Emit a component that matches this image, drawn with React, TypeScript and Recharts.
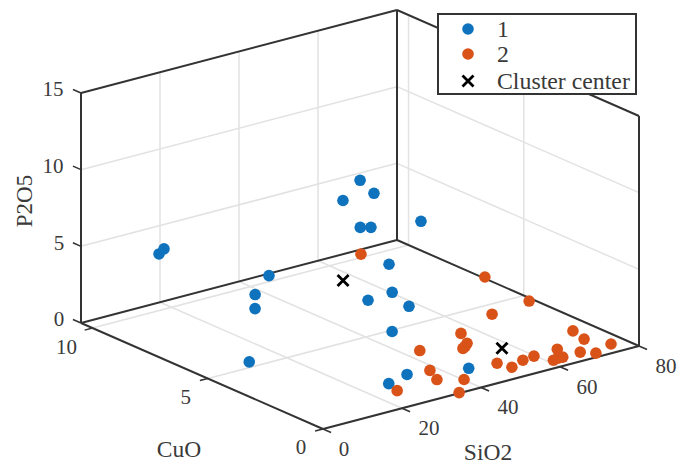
import * as React from "react"
import {
  ScatterChart,
  Scatter,
  XAxis,
  YAxis,
  ReferenceLine,
  ReferenceDot,
  Legend,
} from "recharts"

// values (SiO2, CuO, P2O5)
const sio2One = [9.6, 12.2, 35.8, 32.3, 27.2, 9.8, 51.4, 48.9, 41.4, 45.5, 47.2, 57.3, 58.9, 54.8, 48.1, 52.4, 43.4, 45, 33, 26.8]
const cuoOne = [8.76, 8.99, 8.48, 8.48, 7.61, 4.88, 7.2, 6.17, 6.23, 6.18, 6.01, 5.57, 7.23, 6.39, 6.29, 5.25, 4.44, 1.39, 2.01, 1.74]
const p2o5One = [5, 5, 2, 1, 1, 0.5, 8, 8, 8, 6, 6, 6, 2, 1, 1, 1, 0.5, 0, 0, 0]

const sio2Two = [58.1, 75, 73.3, 62.7, 53.6, 51, 49.6, 48.5, 40.9, 75, 73.8, 76.3, 65.9, 68.5, 70.6, 63.9, 61.3, 62.8, 59.7, 56.5, 52.2, 51.3, 38.1, 35.9, 40.2, 25.6, 34.7]
const cuoTwo = [8.31, 5.83, 3.62, 3.41, 3.2, 2.49, 2.33, 2.24, 2.81, 2.01, 1.32, 0.58, 1.13, 0.58, 0.26, 0.55, 0.51, 0.57, 1.08, 1.01, 0.75, 1.24, 1.89, 1.21, 0.77, 1.17, 0.04]
const p2o5Two = [2, 1, 1, 1, 0.5, 0.5, 0.5, 0.5, 0.5, 0, 0, 0, 0, 0, 0, 0, 0, 0, 0, 0, 0, 0, 0, 0, 0, 0, 0]

const sio2Centers = [40.2, 54.7]
const cuoCenters = [6.02, 1.61]
const p2o5Centers = [3, 0.5]

const sio2Ticks = [0, 20, 40, 60, 80]
const cuoTicks = [0, 5, 10]
const p2o5Ticks = [0, 5, 10, 15]

const SIO2_MAX = 80
const CUO_MAX = 10.5
const P2O5_MAX = 15

const WIDTH = 678
const HEIGHT = 464
const SERIF = '"Liberation Serif", serif'
const TEXT = "#3a3a3a"
const EDGE = "#333333"
const GRID = "#e2e2e2"

// orthographic view of the 3d box, gives page pixels
const project = (s: number, c: number, p: number) => ({
  x: 323 + (316 / SIO2_MAX) * s - (242 / CUO_MAX) * c,
  y: 429 - (83 / SIO2_MAX) * s - (106 / CUO_MAX) * c - (230 / P2O5_MAX) * p,
})

const toPoints = (s: number[], c: number[], p: number[]) =>
  s.map((v, i) => {
    const pos = project(v, c[i], p[i])
    return { px: pos.x, py: pos.y }
  })

type P3 = [number, number, number]

const seg = (a: P3, b: P3) => {
  const pa = project(...a)
  const pb = project(...b)
  return [pa, pb]
}

const gridLines: [P3, P3][] = [
  // floor
  ...[20, 40, 60].map((s): [P3, P3] => [[s, 0, 0], [s, CUO_MAX, 0]]),
  ...[5, 10].map((c): [P3, P3] => [[0, c, 0], [SIO2_MAX, c, 0]]),
  // back wall
  ...[20, 40, 60].map((s): [P3, P3] => [[s, CUO_MAX, 0], [s, CUO_MAX, P2O5_MAX]]),
  ...[5, 10].map((p): [P3, P3] => [[0, CUO_MAX, p], [SIO2_MAX, CUO_MAX, p]]),
  // right wall
  ...[5, 10].map((c): [P3, P3] => [[SIO2_MAX, c, 0], [SIO2_MAX, c, P2O5_MAX]]),
  ...[5, 10].map((p): [P3, P3] => [[SIO2_MAX, 0, p], [SIO2_MAX, CUO_MAX, p]]),
]

const edgeLines: [P3, P3][] = [
  [[0, CUO_MAX, 0], [0, CUO_MAX, P2O5_MAX]],
  [[SIO2_MAX, CUO_MAX, 0], [SIO2_MAX, CUO_MAX, P2O5_MAX]],
  [[SIO2_MAX, 0, 0], [SIO2_MAX, 0, P2O5_MAX]],
  [[0, CUO_MAX, P2O5_MAX], [SIO2_MAX, CUO_MAX, P2O5_MAX]],
  [[SIO2_MAX, CUO_MAX, P2O5_MAX], [SIO2_MAX, 0, P2O5_MAX]],
  [[0, CUO_MAX, 0], [0, 0, 0]],
  [[0, 0, 0], [SIO2_MAX, 0, 0]],
  [[0, CUO_MAX, 0], [SIO2_MAX, CUO_MAX, 0]],
  [[SIO2_MAX, CUO_MAX, 0], [SIO2_MAX, 0, 0]],
]

const tickLines: [P3, P3][] = [
  ...sio2Ticks.map((s): [P3, P3] => [[s, 0, 0], [s, -0.35, 0]]),
  ...cuoTicks.map((c): [P3, P3] => [[0, c, 0], [-2, c, 0]]),
  ...p2o5Ticks.map((p): [P3, P3] => [[0, CUO_MAX, p], [0, CUO_MAX + 0.35, p]]),
]

const tickLabels = [
  ...p2o5Ticks.map((p) => {
    const pos = project(0, CUO_MAX, p)
    return { text: String(p), x: pos.x - (p >= 10 ? 28 : 22), y: pos.y - 4 }
  }),
  ...cuoTicks.map((c) => {
    const pos = project(0, c, 0)
    return { text: String(c), x: pos.x - (c >= 10 ? 26 : 22), y: pos.y + 18 }
  }),
  ...sio2Ticks.map((s) => {
    const pos = project(s, 0, 0)
    return { text: String(s), x: pos.x + (s >= 10 ? 27 : 21), y: pos.y + 19.5 }
  }),
]

const axisTitles = [
  { text: "CuO", x: 179, y: 449 },
  { text: "SiO2", x: 488, y: 452 },
]

const Dot = (color: string) => (props: any) => (
  <circle cx={props.cx} cy={props.cy} r={5.8} fill={color} />
)

const CrossMark = ({ cx, cy }: { cx: number; cy: number }) => (
  <path
    d={`M${cx - 5.5} ${cy - 5.5}L${cx + 5.5} ${cy + 5.5}M${cx - 5.5} ${cy + 5.5}L${cx + 5.5} ${cy - 5.5}`}
    stroke="#000000"
    strokeWidth={2.8}
    fill="none"
  />
)

const legendRows = [
  { top: 16, marker: <circle cx={31} cy={16} r={5.8} fill="#0e72bd" /> },
  { top: 41, marker: <circle cx={31} cy={41} r={5.8} fill="#d95319" /> },
  { top: 68, marker: <CrossMark cx={31} cy={68} /> },
]

const LegendBox = ({ payload }: any) => (
  <div
    style={{
      position: "relative",
      width: 200,
      height: 82,
      boxSizing: "border-box",
      background: "#ffffff",
      border: `2px solid ${EDGE}`,
      fontFamily: SERIF,
      fontSize: 23.8,
      color: TEXT,
    }}
  >
    <svg width={60} height={80} style={{ position: "absolute", left: -2, top: -2 }}>
      {legendRows.map((row, i) => (
        <React.Fragment key={i}>{row.marker}</React.Fragment>
      ))}
    </svg>
    {(payload || []).map((entry: any, i: number) => (
      <span
        key={entry.value}
        style={{
          position: "absolute",
          left: 58,
          top: legendRows[i].top - 14,
          lineHeight: "24px",
          whiteSpace: "nowrap",
        }}
      >
        {entry.value}
      </span>
    ))}
  </div>
)

export default function App() {
  return (
    <div style={{ position: "absolute", left: 0, top: 0, width: WIDTH, height: HEIGHT }}>
      <ScatterChart
        width={WIDTH}
        height={HEIGHT}
        margin={{ top: 0, right: 0, bottom: 0, left: 0 }}
      >
        <XAxis type="number" dataKey="px" domain={[0, WIDTH]} hide />
        <YAxis type="number" dataKey="py" domain={[0, HEIGHT]} reversed hide />

        {gridLines.map(([a, b], i) => (
          <ReferenceLine key={`g${i}`} segment={seg(a, b)} stroke={GRID} strokeWidth={1.5} ifOverflow="visible" />
        ))}
        {edgeLines.map(([a, b], i) => (
          <ReferenceLine key={`e${i}`} segment={seg(a, b)} stroke={EDGE} strokeWidth={2} ifOverflow="visible" />
        ))}
        {tickLines.map(([a, b], i) => (
          <ReferenceLine key={`t${i}`} segment={seg(a, b)} stroke={EDGE} strokeWidth={1.5} ifOverflow="visible" />
        ))}

        {tickLabels.map((l) => (
          <ReferenceDot
            key={`${l.text}-${l.x}`}
            x={l.x}
            y={l.y}
            r={0}
            stroke="none"
            fill="none"
            ifOverflow="visible"
            label={{ value: l.text, position: "center", fontSize: 21, fontFamily: SERIF, fill: TEXT }}
          />
        ))}
        {axisTitles.map((l) => (
          <ReferenceDot
            key={l.text}
            x={l.x}
            y={l.y}
            r={0}
            stroke="none"
            fill="none"
            ifOverflow="visible"
            label={{ value: l.text, position: "center", fontSize: 23.5, fontFamily: SERIF, fill: TEXT }}
          />
        ))}
        <ReferenceDot
          x={24}
          y={201}
          r={0}
          stroke="none"
          fill="none"
          label={{ value: "P2O5", position: "center", angle: -90, fontSize: 23, fontFamily: SERIF, fill: TEXT }}
        />

        <Scatter name="1" data={toPoints(sio2One, cuoOne, p2o5One)} fill="#0e72bd" shape={Dot("#0e72bd")} isAnimationActive={false} />
        <Scatter name="2" data={toPoints(sio2Two, cuoTwo, p2o5Two)} fill="#d95319" shape={Dot("#d95319")} isAnimationActive={false} />
        <Scatter
          name="Cluster center"
          data={toPoints(sio2Centers, cuoCenters, p2o5Centers)}
          fill="#000000"
          shape={(props: any) => <CrossMark cx={props.cx} cy={props.cy} />}
          isAnimationActive={false}
        />

        <Legend
          layout="vertical"
          align="center"
          verticalAlign="middle"
          content={<LegendBox />}
          wrapperStyle={{ left: 437, top: 13, width: 200, height: 82, bottom: "auto", right: "auto" }}
        />
      </ScatterChart>
    </div>
  )
}
